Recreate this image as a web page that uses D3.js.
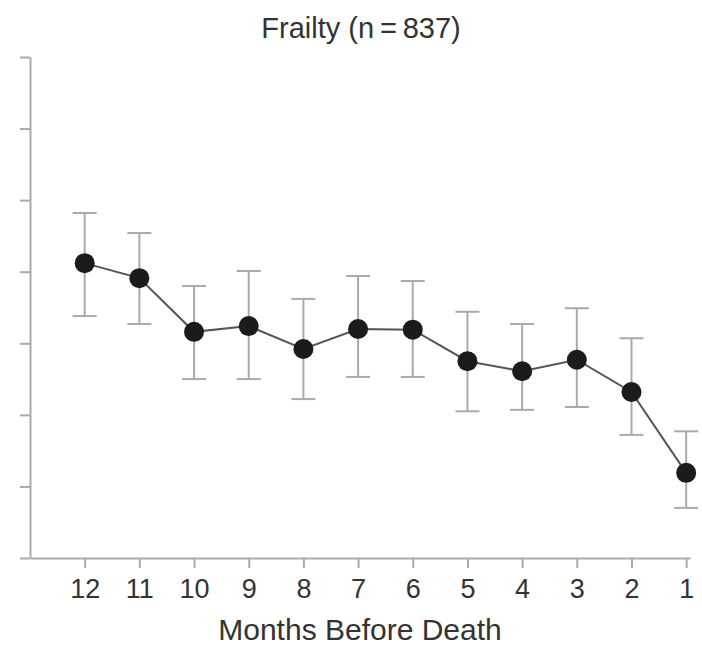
<!DOCTYPE html>
<html>
<head>
<meta charset="utf-8">
<script src="https://cdn.jsdelivr.net/npm/d3@7"></script>
<style>
  body { margin: 0; background: #fff; }
  text { font-family: "Liberation Sans", Arial, sans-serif; fill: #333; }
</style>
</head>
<body>
<div id="container"></div>
<script>
/* CONSTANTS AND GLOBALS */
const width = 702,
  height = 649,
  margin = { top: 57, bottom: 91, left: 30, right: 12 };

/* DATA */
const months = [12, 11, 10, 9, 8, 7, 6, 5, 4, 3, 2, 1];
const means  = [4.12, 3.91, 3.16, 3.24, 2.92, 3.20, 3.19, 2.75, 2.61, 2.77, 2.32, 1.19];
const upper  = [4.82, 4.54, 3.80, 4.01, 3.62, 3.94, 3.87, 3.44, 3.27, 3.49, 3.07, 1.77];
const lower  = [3.38, 3.27, 2.50, 2.50, 2.22, 2.53, 2.53, 2.05, 2.07, 2.11, 1.72, 0.70];
const yTicks = [0, 1, 2, 3, 4, 5, 6, 7];

const data = months.map((m, i) => ({ month: m, mean: means[i], hi: upper[i], lo: lower[i] }));

/* SCALES */
// x - months counting down towards death
const xScale = d3.scaleLinear()
  .domain([13, 0.93])
  .range([margin.left, width - margin.right]);

// y - frailty score (no labels in the original)
const yScale = d3.scaleLinear()
  .domain([0, 7])
  .range([height - margin.bottom, margin.top]);

/* SVG */
const svg = d3.select("#container")
  .append("svg")
  .attr("width", width)
  .attr("height", height);

// title
svg.append("text")
  .attr("x", 361)
  .attr("y", 38)
  .attr("text-anchor", "middle")
  .style("font-size", "29px")
  .text("Frailty (n\u2009=\u2009837)");

// y axis
const yAxis = svg.append("g")
  .attr("transform", `translate(${margin.left},0)`)
  .call(d3.axisLeft(yScale).tickValues(yTicks).tickSize(10).tickSizeOuter(0).tickFormat(""));

// x axis
const xAxis = svg.append("g")
  .attr("transform", `translate(0,${height - margin.bottom})`)
  .call(d3.axisBottom(xScale).tickValues(months).tickSize(10).tickSizeOuter(0).tickPadding(11));

xAxis.selectAll("text").style("font-size", "27px").attr("fill", "#333");

[yAxis, xAxis].forEach(ax => {
  ax.select(".domain").attr("stroke", "#aaa").attr("stroke-width", 2);
  ax.selectAll(".tick line").attr("stroke", "#aaa").attr("stroke-width", 2);
});

// x axis title
svg.append("text")
  .attr("x", 360)
  .attr("y", 640)
  .attr("text-anchor", "middle")
  .style("font-size", "30px")
  .text("Months Before Death");

// error bars
const capW = 12;
const bars = svg.selectAll(".err")
  .data(data)
  .join("g")
  .attr("class", "err")
  .attr("stroke", "#aaa")
  .attr("stroke-width", 2);

bars.append("line")
  .attr("x1", d => xScale(d.month))
  .attr("x2", d => xScale(d.month))
  .attr("y1", d => yScale(d.hi))
  .attr("y2", d => yScale(d.lo));

bars.append("line")
  .attr("x1", d => xScale(d.month) - capW)
  .attr("x2", d => xScale(d.month) + capW)
  .attr("y1", d => yScale(d.hi))
  .attr("y2", d => yScale(d.hi));

bars.append("line")
  .attr("x1", d => xScale(d.month) - capW)
  .attr("x2", d => xScale(d.month) + capW)
  .attr("y1", d => yScale(d.lo))
  .attr("y2", d => yScale(d.lo));

// line connecting the means
const line = d3.line()
  .x(d => xScale(d.month))
  .y(d => yScale(d.mean));

svg.append("path")
  .datum(data)
  .attr("fill", "none")
  .attr("stroke", "#555")
  .attr("stroke-width", 2)
  .attr("d", line);

// points
svg.selectAll(".dot")
  .data(data)
  .join("circle")
  .attr("class", "dot")
  .attr("cx", d => xScale(d.month))
  .attr("cy", d => yScale(d.mean))
  .attr("r", 10)
  .attr("fill", "#1c1a1b");
</script>
</body>
</html>
